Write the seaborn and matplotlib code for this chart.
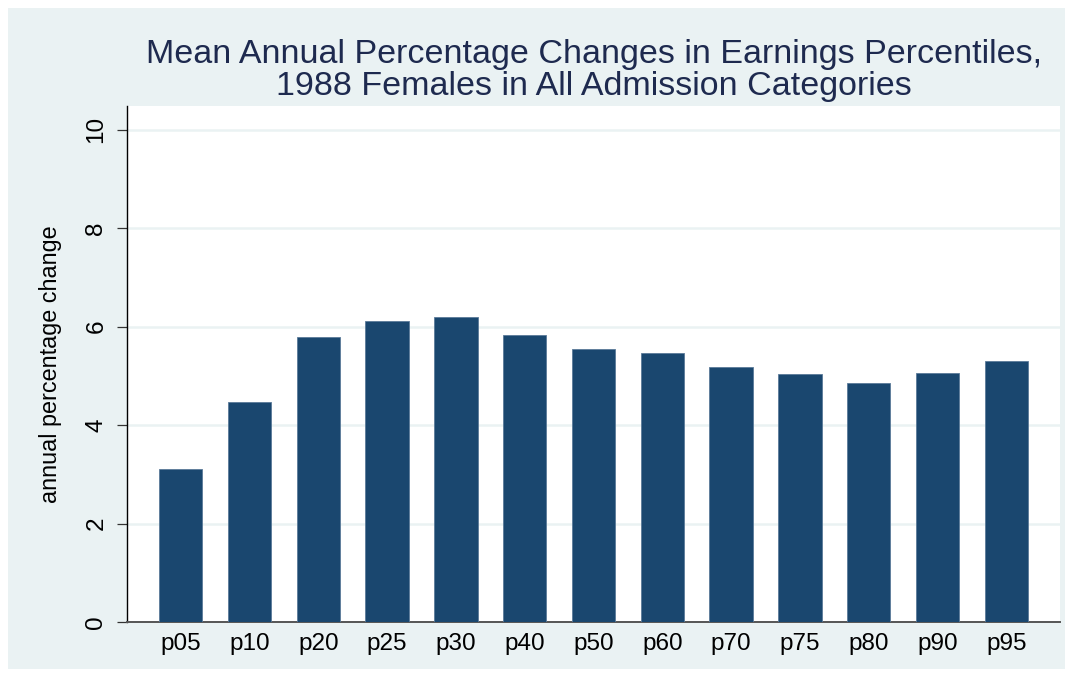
import matplotlib
matplotlib.use('Agg')
import matplotlib.pyplot as plt
import seaborn as sns
import pandas as pd
from matplotlib.patches import Rectangle

# Percentiles and their mean annual percentage change
percentiles = ['p05', 'p10', 'p20', 'p25', 'p30', 'p40', 'p50',
               'p60', 'p70', 'p75', 'p80', 'p90', 'p95']
changes = [3.11, 4.47, 5.78, 6.12, 6.20, 5.82, 5.55,
           5.47, 5.18, 5.04, 4.86, 5.05, 5.31]
y_ticks = [0, 2, 4, 6, 8, 10]
title_lines = ['Mean Annual Percentage Changes in Earnings Percentiles,',
               '1988 Females in All Admission Categories']

df = pd.DataFrame({'percentile': percentiles, 'change': changes})

sns.set_style('white')
plt.rcParams['font.family'] = ['Liberation Sans', 'DejaVu Sans']

bg = '#EAF2F3'
bar_color = '#1A476F'
title_color = '#1E2A4F'

W, H = 1073, 677
fig = plt.figure(figsize=(W / 100, H / 100), dpi=100)
fig.patch.set_facecolor('white')
# light outer panel like Stata's s2color scheme
fig.patches.append(Rectangle((8 / W, 8 / H), 1 - 16 / W, 1 - 16 / H,
                             transform=fig.transFigure, facecolor=bg,
                             edgecolor='none', zorder=-10))

ax = fig.add_axes([127 / W, 1 - 622 / H, (1060 - 127) / W, (622 - 106) / H])
ax.set_facecolor('white')

sns.barplot(data=df, x='percentile', y='change', color=bar_color,
            saturation=1, width=0.63, edgecolor='#5A7A99', linewidth=0.6,
            ax=ax, zorder=3)

ax.set_xlim(-0.78, len(percentiles) - 1 + 0.78)
ax.set_ylim(0, 10.48)
ax.set_yticks(y_ticks)
ax.set_yticklabels([str(t) for t in y_ticks], rotation=90, va='center',
                   fontsize=17.5, color='black')
ax.yaxis.grid(True, color=bg, linewidth=1.8, zorder=0)
ax.set_axisbelow(True)

ax.tick_params(axis='y', direction='out', length=7.2, width=0.9, color='#333333',
               pad=7, left=True)
ax.tick_params(axis='x', length=0, pad=8, labelsize=17.5, labelcolor='black')

for side in ['top', 'right']:
    ax.spines[side].set_visible(False)
ax.spines['left'].set_color('black')
ax.spines['left'].set_linewidth(1.0)
ax.spines['bottom'].set_color('#555555')
ax.spines['bottom'].set_linewidth(1.4)

ax.set_xlabel('')
ax.set_ylabel('annual percentage change', fontsize=16.8, color='black',
              labelpad=17)

# two-line title, baselines placed separately
for line, base in zip(title_lines, [63, 95]):
    fig.text(594 / W, 1 - base / H, line, ha='center', va='baseline',
             fontsize=24.5, color=title_color)

fig.savefig('out.png', dpi=100, facecolor=fig.get_facecolor())
